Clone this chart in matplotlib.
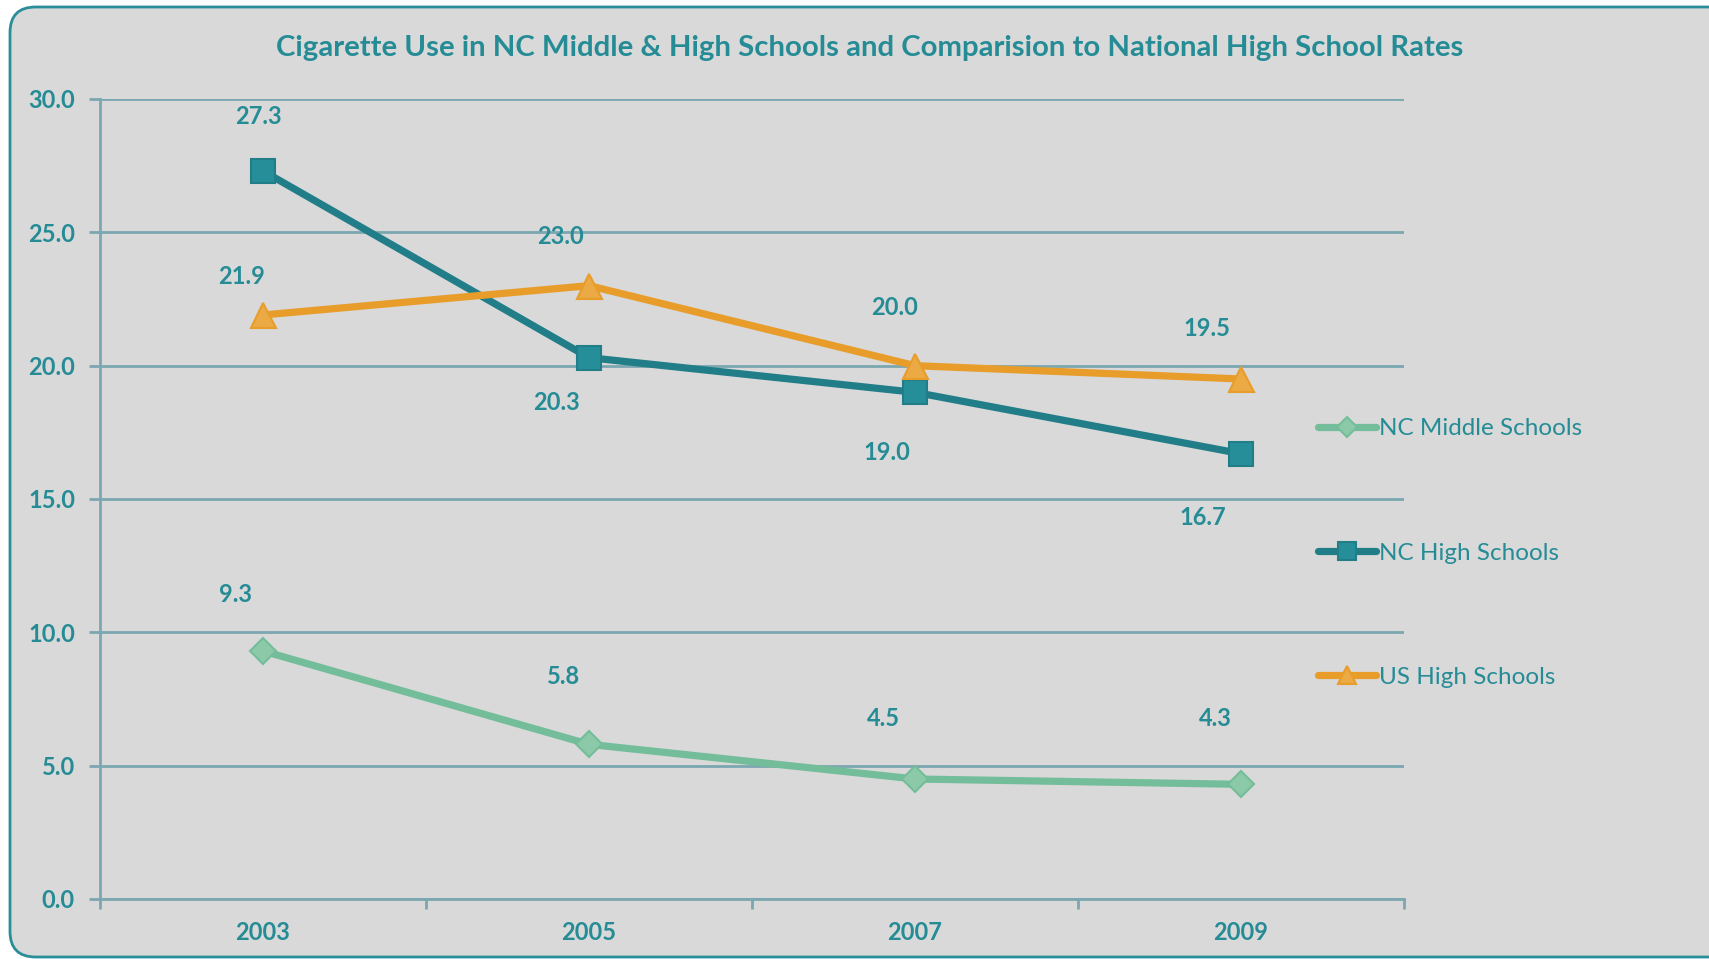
import matplotlib.pyplot as plt
from matplotlib.patches import FancyBboxPatch

# data
years = ["2003", "2005", "2007", "2009"]
nc_middle = [9.3, 5.8, 4.5, 4.3]
nc_high = [27.3, 20.3, 19.0, 16.7]
us_high = [21.9, 23.0, 20.0, 19.5]

# label offsets in pixels (Excel placed them a little left of the points)
off_middle = [(-27, 57), (-25, 68), (-31, 61), (-26, 66)]
off_high = [(-5, 55), (-32, -45), (-28, -60), (-38, -64)]
off_us = [(-21, 38), (-28, 49), (-20, 58), (-34, 51)]

teal = "#258C96"
grid_c = "#7BA7B1"
bg = "#D9D9D9"
font = ["Lato", "DejaVu Sans"]
plt.rcParams["font.family"] = font

W, H = 1709, 959
fig = plt.figure(figsize=(W / 100, H / 100), dpi=100)
fig.patch.set_facecolor("white")

# rounded panel, cut off at the right edge
panel = FancyBboxPatch(
    (10 / W, 2 / H), 1760 / W, 950 / H,
    boxstyle="round,pad=0,rounding_size=0.015",
    transform=fig.transFigure, facecolor=bg, edgecolor="#2A8E98",
    linewidth=2, mutation_aspect=W / H, zorder=-5,
)
fig.patches.append(panel)

ax = fig.add_axes([100 / W, 1 - 899 / H, 1304 / W, 800 / H])
ax.set_facecolor("none")

x = list(range(len(years)))
series = [
    ("NC Middle Schools", nc_middle, "#74BD9A", "#8CC9A8", "D", 13, off_middle),
    ("NC High Schools", nc_high, "#217E88", "#268E98", "s", 17, off_high),
    ("US High Schools", us_high, "#E89D2A", "#ECAA45", "^", 18, off_us),
]
for name, vals, lc, mc, mk, ms, offs in series:
    ax.plot(x, vals, color=lc, lw=5.2, marker=mk, markersize=ms,
            markerfacecolor=mc, markeredgecolor=lc, markeredgewidth=1.5,
            label=name, zorder=3, solid_capstyle="round")
    for xi, v, (dx, dy) in zip(x, vals, offs):
        ax.annotate(f"{v:.1f}", (xi, v), xytext=(dx, dy),
                    textcoords="offset pixels", ha="center", va="center",
                    color=teal, fontsize=17, fontweight="bold")

ax.set_xlim(-0.5, 3.5)
ax.set_ylim(0, 30)
ax.set_yticks([0, 5, 10, 15, 20, 25, 30])
ax.set_yticklabels([f"{v:.1f}" for v in [0, 5, 10, 15, 20, 25, 30]])
ax.set_xticks(x)
ax.set_xticklabels(years)
ax.set_xticks([-0.5, 0.5, 1.5, 2.5, 3.5], minor=True)
ax.tick_params(axis="x", which="major", length=0, pad=16)
ax.tick_params(axis="x", which="minor", length=7, width=2, color=grid_c, direction="out")
ax.tick_params(axis="y", length=8, width=2, color=grid_c, pad=10)
for lab in ax.get_xticklabels() + ax.get_yticklabels():
    lab.set_color(teal)
    lab.set_fontweight("bold")
    lab.set_fontsize(17)

ax.grid(axis="y", color=grid_c, lw=2)
ax.set_axisbelow(True)
for s in ["top", "right"]:
    ax.spines[s].set_visible(False)
for s in ["left", "bottom"]:
    ax.spines[s].set_color(grid_c)
    ax.spines[s].set_linewidth(2)

fig.text(870 / W, 1 - 48 / H,
         "Cigarette Use in NC Middle & High Schools and Comparision to National High School Rates",
         ha="center", va="center", color=teal, fontsize=21.2, fontweight="bold")

leg = fig.legend(loc="center left", bbox_to_anchor=(1318 / W, 1 - 553 / H),
                 frameon=False, fontsize=17.5, labelcolor=teal,
                 handlelength=2.4, handletextpad=0.1, labelspacing=4.25,
                 borderpad=0, borderaxespad=0)
for h in leg.legend_handles:
    h.set_markersize(h.get_markersize() * 0.75)

fig.savefig("out.png", dpi=100)
